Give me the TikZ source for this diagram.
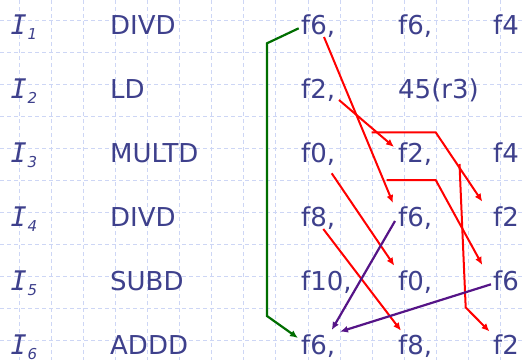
\documentclass[tikz,border=0pt]{standalone}
\usepackage{fontspec}
\setmainfont{DejaVu Sans}
\newfontfamily\ifont{DejaVu Sans Mono Oblique}
\newfontfamily\subfont{DejaVu Sans Oblique}
\usetikzlibrary{arrows.meta}
\definecolor{ink}{RGB}{62,64,140}
\definecolor{gridc}{RGB}{205,214,245}
\definecolor{redc}{RGB}{255,0,0}
\definecolor{greenc}{RGB}{0,110,0}
\definecolor{purplec}{RGB}{85,20,135}
\begin{document}
\begin{tikzpicture}[x=1pt,y=-1pt,
  txt/.style={inner sep=0pt, anchor=base west, text=ink, font=\fontsize{26}{30}\selectfont},
  ilab/.style={inner sep=0pt, anchor=base west, text=ink, font=\ifont\fontsize{27}{30}\selectfont},
  isub/.style={inner sep=0pt, anchor=base west, text=ink, font=\subfont\fontsize{15}{18}\selectfont},
  gridline/.style={draw=gridc, line width=0.8pt, dash pattern=on 4pt off 3pt},
  tip/.style={-{Latex[length=8pt,width=7pt]}},
  reddep/.style={draw=redc, line width=2pt, line join=miter},
  greendep/.style={draw=greenc, line width=2.2pt, line join=miter},
  purpledep/.style={draw=purplec, line width=2.2pt}]
\useasboundingbox (0,0) rectangle (525,360);
\fill[white] (0,0) rectangle (525,360);
% grid
\foreach \k in {0,...,15} \draw[gridline] ({19.3+32.07*\k},0) -- ++(0,360);
\foreach \k in {0,...,10} \draw[gridline] (0,{20+32*\k}) -- ++(525,0);
% labels
\foreach \r/\y in {1/34,2/98,3/162,4/226,5/290,6/354}{
  \node[ilab] (i\r) at (10.5,\y) {I};
  \node[isub] (s\r) at (27.5,\y+5) {\r};
}
% opcodes
\node[txt] (op1) at (110,34) {DIVD};
\node[txt] (op2) at (110,98) {LD};
\node[txt] (op3) at (110,162) {MULTD};
\node[txt] (op4) at (110,226) {DIVD};
\node[txt] (op5) at (110,290) {SUBD};
\node[txt] (op6) at (110,354) {ADDD};
% operands
\node[txt] (a1) at (301,34) {f6,};
\node[txt] (b1) at (398,34) {f6,};
\node[txt] (c1) at (493,34) {f4};
\node[txt] (a2) at (301,98) {f2,};
\node[txt] (b2) at (398,98) {45(r3)};
\node[txt] (a3) at (301,162) {f0,};
\node[txt] (b3) at (398,162) {f2,};
\node[txt] (c3) at (493,162) {f4};
\node[txt] (a4) at (301,226) {f8,};
\node[txt] (b4) at (398,226) {f6,};
\node[txt] (c4) at (493,226) {f2};
\node[txt] (a5) at (301,290) {f10,};
\node[txt] (b5) at (398,290) {f0,};
\node[txt] (c5) at (493,290) {f6};
\node[txt] (a6) at (301,354) {f6,};
\node[txt] (b6) at (398,354) {f8,};
\node[txt] (c6) at (493,354) {f2};
% connector end points
\coordinate (g0) at (298.7,28.3);
\coordinate (g1) at (267,43.3);
\coordinate (g2) at (267,316);
\coordinate (g3) at (298,338);
\coordinate (r1s) at (324,37);   \coordinate (r1e) at (393,203);
\coordinate (r2s) at (339,100);  \coordinate (r2e) at (394,147);
\coordinate (r3s) at (371.5,132.3); \coordinate (r3m) at (435.7,132.3); \coordinate (r3e) at (482.3,201.7);
\coordinate (r4s) at (386.5,180); \coordinate (r4m) at (435.7,180); \coordinate (r4e) at (482.3,265);
\coordinate (r5s) at (459.5,164); \coordinate (r5m) at (465.7,307.5); \coordinate (r5e) at (489.5,331.5);
\coordinate (r6s) at (331.7,173.3); \coordinate (r6e) at (394.3,265.7);
\coordinate (r7s) at (323.3,229); \coordinate (r7e) at (401,330.7);
\coordinate (p1s) at (395,221); \coordinate (p1e) at (331.7,330);
\coordinate (p2s) at (491,284.3); \coordinate (p2e) at (340,331.7);
% green
\draw[greendep, tip] (g0) -- (g1) -- (g2) -- (g3);
% red
\draw[reddep, tip] (r1s) -- (r1e);
\draw[reddep, tip] (r2s) -- (r2e);
\draw[reddep, tip] (r3s) -- (r3m) -- (r3e);
\draw[reddep, tip] (r4s) -- (r4m) -- (r4e);
\draw[reddep, tip] (r5s) -- (r5m) -- (r5e);
\draw[reddep, tip] (r6s) -- (r6e);
\draw[reddep, tip] (r7s) -- (r7e);
% purple
\draw[purpledep, tip] (p1s) -- (p1e);
\draw[purpledep, tip] (p2s) -- (p2e);
\end{tikzpicture}
\end{document}
